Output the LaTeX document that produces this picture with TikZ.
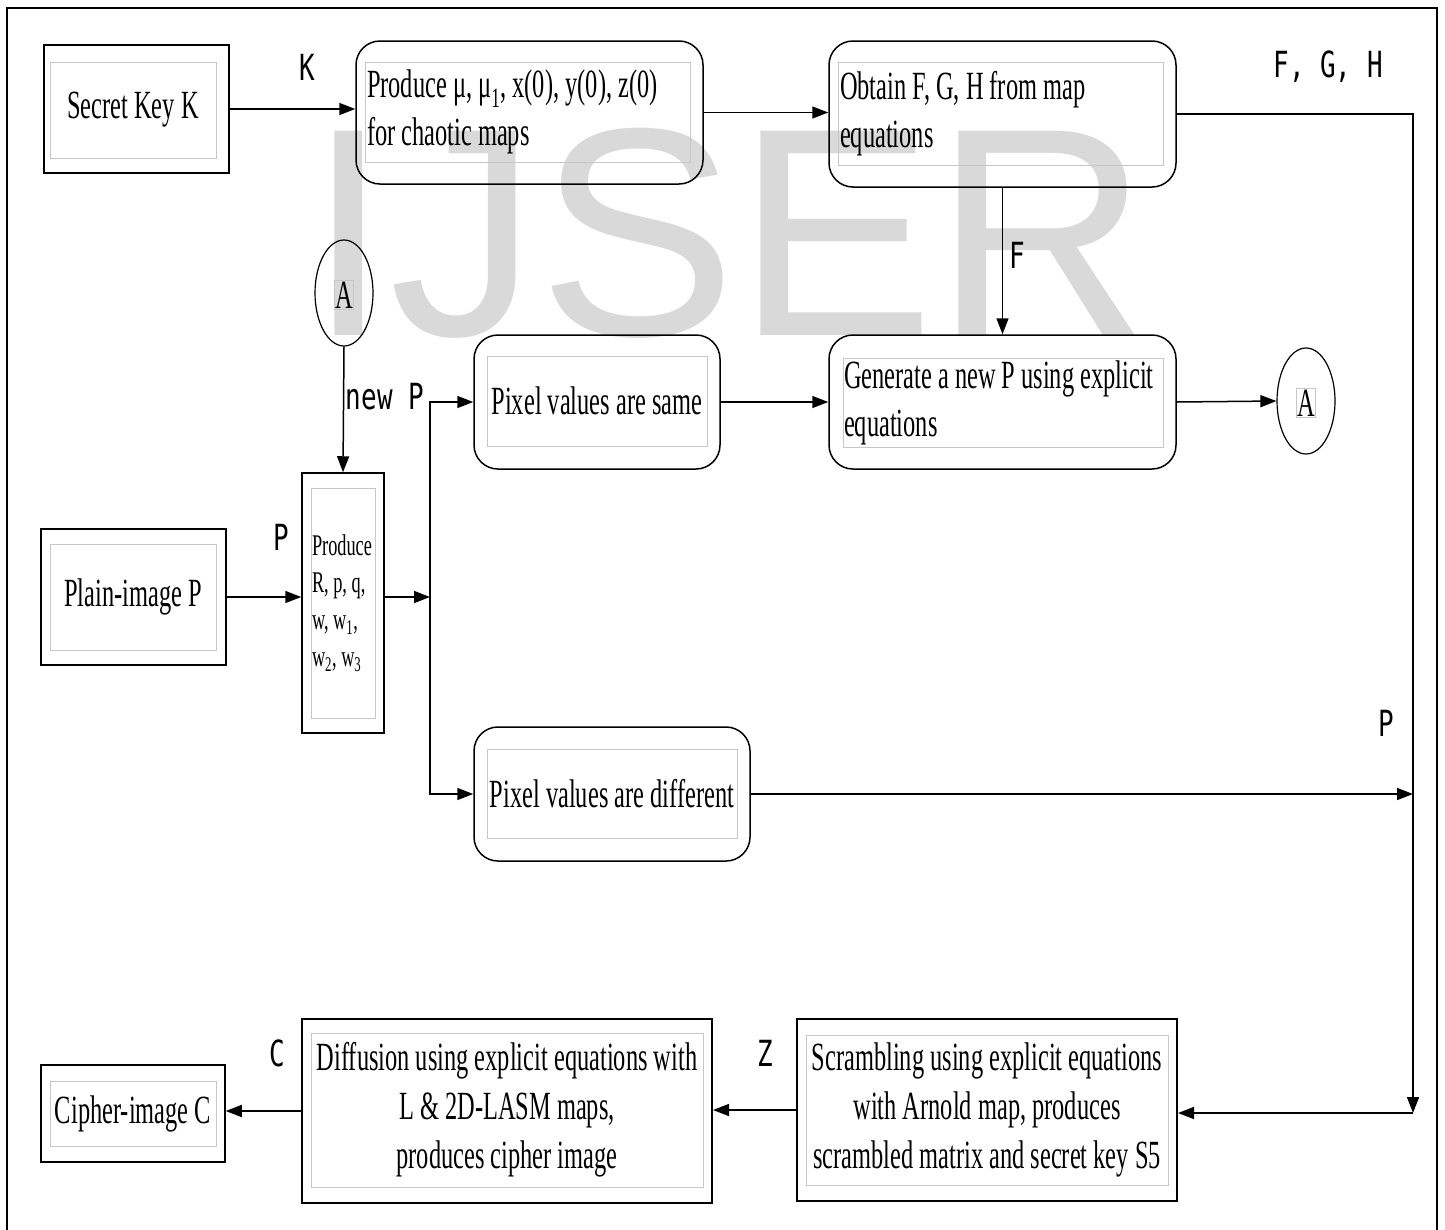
\documentclass[tikz,border=0pt]{standalone}
\usepackage{fontspec}
\setmainfont{Liberation Serif}[FakeStretch=0.61]
\newfontfamily\labelfont{DejaVu Sans Mono}[FakeStretch=0.72]
\newfontfamily\markfont{Liberation Sans}
\usetikzlibrary{positioning}
\usetikzlibrary{arrows.meta,shapes}
\usetikzlibrary{calc}
\tikzstyle{outerbox}=[draw,line width=1.5pt,inner sep=0pt]
\tikzstyle{roundbox}=[outerbox,rounded corners=24pt]
\tikzstyle{innerbox}=[draw=black!22,line width=1pt,inner sep=1pt,font=\fontsize{40}{48}\selectfont]
\tikzstyle{smallbox}=[innerbox,font=\fontsize{30}{37}\selectfont]
\tikzstyle{connector}=[draw,line width=1.5pt,-{Triangle[length=16pt,width=12pt]}]
\tikzstyle{lbl}=[font=\labelfont\fontsize{36}{40}\selectfont,inner sep=0pt]
\tikzstyle{jump}=[draw,ellipse,line width=1.2pt,minimum width=58,minimum height=106,inner sep=0pt]

\begin{document}
\begin{tikzpicture}[x=1pt,y=-1pt]
    \useasboundingbox (0,0) rectangle (1445,1229);

    % watermark and frame
    \node[font=\markfont\fontsize{297}{300}\selectfont,text=black!15,anchor=base,inner sep=0pt] (mark) at (728,335) {IJSER};
    \draw[line width=2pt] (7,8) rectangle (1437,1240);

    % top row
    \node[outerbox,minimum width=185,minimum height=128] (key) at (136.5,109) {};
    \node[innerbox,minimum width=166,minimum height=96] (keyt) at (133,110) {Secret Key K};

    \node[roundbox,minimum width=347,minimum height=143] (params) at (529.5,112.5) {};
    \node[innerbox,text width=321pt,align=flush left,minimum height=100,inner sep=2pt] (paramst) at (527.5,112)
        {Produce μ, μ\textsubscript{1}, x(0), y(0), z(0)\\for chaotic maps};

    \node[roundbox,minimum width=347,minimum height=146] (obtain) at (1002.5,114) {};
    \node[innerbox,text width=321pt,align=flush left,minimum height=103,inner sep=2pt] (obtaint) at (1000.5,113.5)
        {Obtain F, G, H from map\\equations};

    % middle part
    \node[jump] (ca) at (344,293) {};
    \node[innerbox,inner sep=1pt,line width=0.8pt] (cat) at (344,295) {A};

    \node[outerbox,minimum width=82,minimum height=260] (rpq) at (343,603) {};
    \node[smallbox,text width=62pt,align=flush left,minimum height=230] (rpqt) at (343,603)
        {Produce\\R, p, q,\\w, w\textsubscript{1},\\w\textsubscript{2}, w\textsubscript{3}};

    \node[outerbox,minimum width=185,minimum height=136] (plain) at (133.5,597) {};
    \node[innerbox,minimum width=166,minimum height=106] (plaint) at (133,597) {Plain-image P};

    \node[roundbox,minimum width=246,minimum height=134] (same) at (597,402) {};
    \node[innerbox,minimum width=220,minimum height=90] (samet) at (597,401) {Pixel values are same};

    \node[roundbox,minimum width=347,minimum height=134] (gen) at (1002.5,402) {};
    \node[innerbox,text width=318pt,align=flush left,minimum height=89] (gent) at (1003,403)
        {Generate a new P using explicit\\equations};

    \node[jump] (cb) at (1306,401) {};
    \node[innerbox,inner sep=1pt,line width=0.8pt] (cbt) at (1306,403) {A};

    \node[roundbox,minimum width=276,minimum height=134] (diff) at (612,794) {};
    \node[innerbox,minimum width=250,minimum height=89] (difft) at (612,794) {Pixel values are different};

    % bottom row
    \node[outerbox,line width=2pt,minimum width=380,minimum height=182] (scram) at (987,1110) {};
    \node[innerbox,align=center,minimum width=362,minimum height=150,font=\fontsize{40}{49}\selectfont] (scramt) at (987,1110)
        {Scrambling using explicit equations\\with Arnold map, produces\\scrambled matrix and secret key S5};

    \node[outerbox,line width=2pt,minimum width=410,minimum height=184] (diffu) at (507,1111) {};
    \node[innerbox,align=center,minimum width=392,minimum height=154,font=\fontsize{40}{49}\selectfont] (diffut) at (507,1110)
        {Diffusion using explicit equations with\\L \& 2D-LASM maps,\\produces cipher image};

    \node[outerbox,minimum width=184,minimum height=97] (cipher) at (133,1113.5) {};
    \node[innerbox,minimum width=166,minimum height=65] (ciphert) at (133,1113.5) {Cipher-image C};

    % connectors
    \coordinate (split) at (430,597);
    \coordinate (corner) at (1413,1113);

    \path[connector] (key.east) -- (key.east -| params.west);
    \path[connector] (params.east) -- (params.east -| obtain.west);
    \path[connector] (obtain.east) -| (corner);
    \path[connector] (corner) -- (corner -| scram.east);
    \path[connector] (obtain.south) -- (gen.north);
    \path[connector] (ca.south) -- (rpq.north);
    \path[connector] (plain.east) -- (plain.east -| rpq.west);
    \path[connector] (rpq.east |- split) -- (split);
    \path[connector] (split) |- (same.west);
    \path[connector] (split) |- (diff.west);
    \path[connector] (same.east) -- (same.east -| gen.west);
    \path[connector] (gen.east) -- (cb.west);
    \path[connector] (diff.east) -- (diff.east -| corner);
    \path[connector] (scram.west) -- (scram.west -| diffu.east);
    \path[connector] (diffu.west) -- (diffu.west -| cipher.east);

    % labels
    \foreach \pos/\name/\txt in {{(307,67)/lk/K}, {(1328,67)/lfgh/{F, G, H}}, {(1017,255)/lf/F},
        {(385,397)/lnp/new P}, {(281,537)/lp/P}, {(1386,723)/lpd/P}, {(765,1053)/lz/Z}, {(277,1053)/lc/C}}
        \node[lbl] (\name) at \pos {\txt};

\end{tikzpicture}
\end{document}
